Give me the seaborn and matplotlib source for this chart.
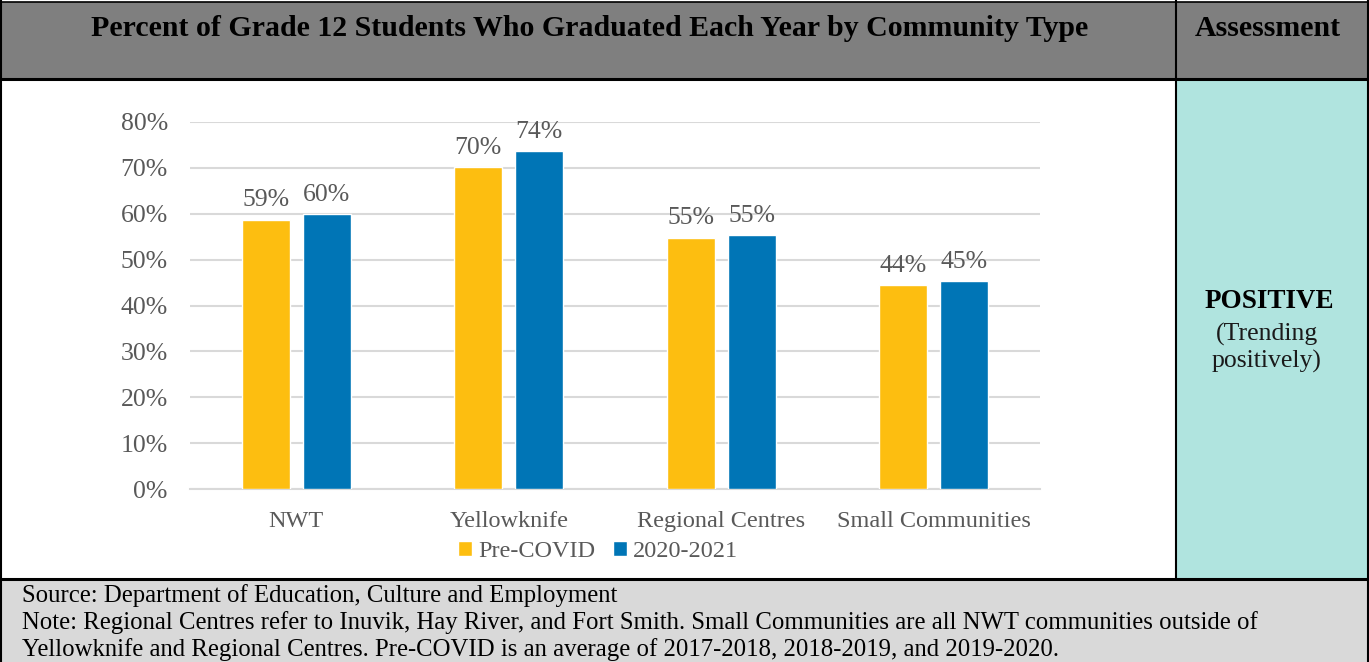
import matplotlib
matplotlib.use("Agg")
import matplotlib.pyplot as plt
from matplotlib.patches import Rectangle
from matplotlib.lines import Line2D
import seaborn as sns
import pandas as pd

categories = ["NWT", "Yellowknife", "Regional Centres", "Small Communities"]
series_names = ["Pre-COVID", "2020-2021"]
pre_covid = [58.7, 70.1, 54.8, 44.4]
y2020_2021 = [59.9, 73.6, 55.4, 45.3]
y_ticks = [0, 10, 20, 30, 40, 50, 60, 70, 80]
title = "Percent of Grade 12 Students Who Graduated Each Year by Community Type"
assess_header = "Assessment"
assess_main = "POSITIVE"
assess_sub1 = "(Trending"
assess_sub2 = "positively)"
source_text = "Source: Department of Education, Culture and Employment"
note_line1 = "Note: Regional Centres refer to Inuvik, Hay River, and Fort Smith. Small Communities are all NWT communities outside of"
note_line2 = "Yellowknife and Regional Centres. Pre-COVID is an average of 2017-2018, 2018-2019, and 2019-2020."

colors = ["#FDBE10", "#0075B6"]

df = pd.DataFrame({
    "Community": categories * 2,
    "Series": [series_names[0]] * 4 + [series_names[1]] * 4,
    "Value": pre_covid + y2020_2021,
})

sns.set_theme(style="white")
plt.rcParams["font.family"] = ["Liberation Serif", "DejaVu Serif"]

W, H = 1369, 662
fig = plt.figure(figsize=(W / 100, H / 100), dpi=100)

def fx(px):
    return px / W

def fy(py):
    return 1 - py / H

# Table backgrounds
fig.patches.append(Rectangle((fx(1), fy(79)), fx(1367) - fx(1), fy(2) - fy(79),
                             transform=fig.transFigure, facecolor="#7F7F7F", edgecolor="none", zorder=0))
fig.patches.append(Rectangle((fx(1176), fy(579)), fx(1367) - fx(1176), fy(79) - fy(579),
                             transform=fig.transFigure, facecolor="#B0E4DF", edgecolor="none", zorder=0))
fig.patches.append(Rectangle((fx(1), fy(662)), fx(1367) - fx(1), fy(579) - fy(662),
                             transform=fig.transFigure, facecolor="#D9D9D9", edgecolor="none", zorder=0))

def hline(y, x0, x1, lw):
    fig.lines.append(Line2D([fx(x0), fx(x1)], [fy(y), fy(y)], transform=fig.transFigure,
                            color="black", lw=lw, zorder=5))

def vline(x, y0, y1, lw):
    fig.lines.append(Line2D([fx(x), fx(x)], [fy(y0), fy(y1)], transform=fig.transFigure,
                            color="black", lw=lw, zorder=5))

hline(2, 0, 1369, 1.2)
hline(79, 0, 1369, 2.2)
hline(579, 0, 1369, 2.2)
vline(1.2, 0, 662, 1.5)
vline(1367.5, 0, 662, 1.5)
vline(1175.5, 0, 579, 1.5)

# Header texts
fig.text(fx(590), fy(28), title, ha="center", va="center", fontsize=21.5, fontweight="bold", color="black")
fig.text(fx(1268), fy(28), assess_header, ha="center", va="center", fontsize=21.5, fontweight="bold", color="black")

# Assessment cell
fig.text(fx(1269), fy(302), assess_main, ha="center", va="center", fontsize=19.5, fontweight="bold", color="black")
fig.text(fx(1267), fy(334), assess_sub1, ha="center", va="center", fontsize=18.5, color="#1a1a1a")
fig.text(fx(1267), fy(361), assess_sub2, ha="center", va="center", fontsize=18.5, color="#1a1a1a")

# Footer
fig.text(fx(22), fy(596), source_text, ha="left", va="center", fontsize=17.8, color="black")
fig.text(fx(22), fy(623), note_line1, ha="left", va="center", fontsize=17.8, color="black")
fig.text(fx(22), fy(650), note_line2, ha="left", va="center", fontsize=17.8, color="black")

# Chart
ax = fig.add_axes([fx(190), fy(489), fx(1040) - fx(190), fy(122) - fy(489)])
ax.set_facecolor("none")
sns.barplot(data=df, x="Community", y="Value", hue="Series", hue_order=series_names,
            order=categories, palette=colors, width=0.574, gap=0.21, ax=ax, saturation=1,
            legend=True, zorder=3)
ax.set_ylim(0, 80)
ax.set_xlim(-0.5, 3.5)
ax.set_yticks(y_ticks)
ax.set_yticklabels([f"{t}%" for t in y_ticks])
ax.yaxis.grid(True, color="#D9D9D9", lw=1.5, zorder=0)
ax.set_axisbelow(True)
for s in ["top", "right", "left"]:
    ax.spines[s].set_visible(False)
ax.spines["bottom"].set_color("#D9D9D9")
ax.spines["bottom"].set_linewidth(1.5)
ax.tick_params(axis="both", length=0, colors="#595959")
ax.tick_params(axis="x", pad=16, labelsize=17.5)
ax.tick_params(axis="y", pad=16, labelsize=18.5)
ax.set_xlabel("")
ax.set_ylabel("")

for cont in ax.containers:
    ax.bar_label(cont, labels=[f"{round(b.get_height()):.0f}%" for b in cont],
                 padding=6, fontsize=18.5, color="#595959")

handles, labels = ax.get_legend_handles_labels()
ax.legend(handles, labels, loc="upper center", bbox_to_anchor=(0.48, -0.115), ncol=2, frameon=False,
          fontsize=17.5, handlelength=0.6, handleheight=0.6, handletextpad=0.25, columnspacing=0.7,
          labelcolor="#595959", borderaxespad=0)

fig.savefig("out.png", dpi=100)
